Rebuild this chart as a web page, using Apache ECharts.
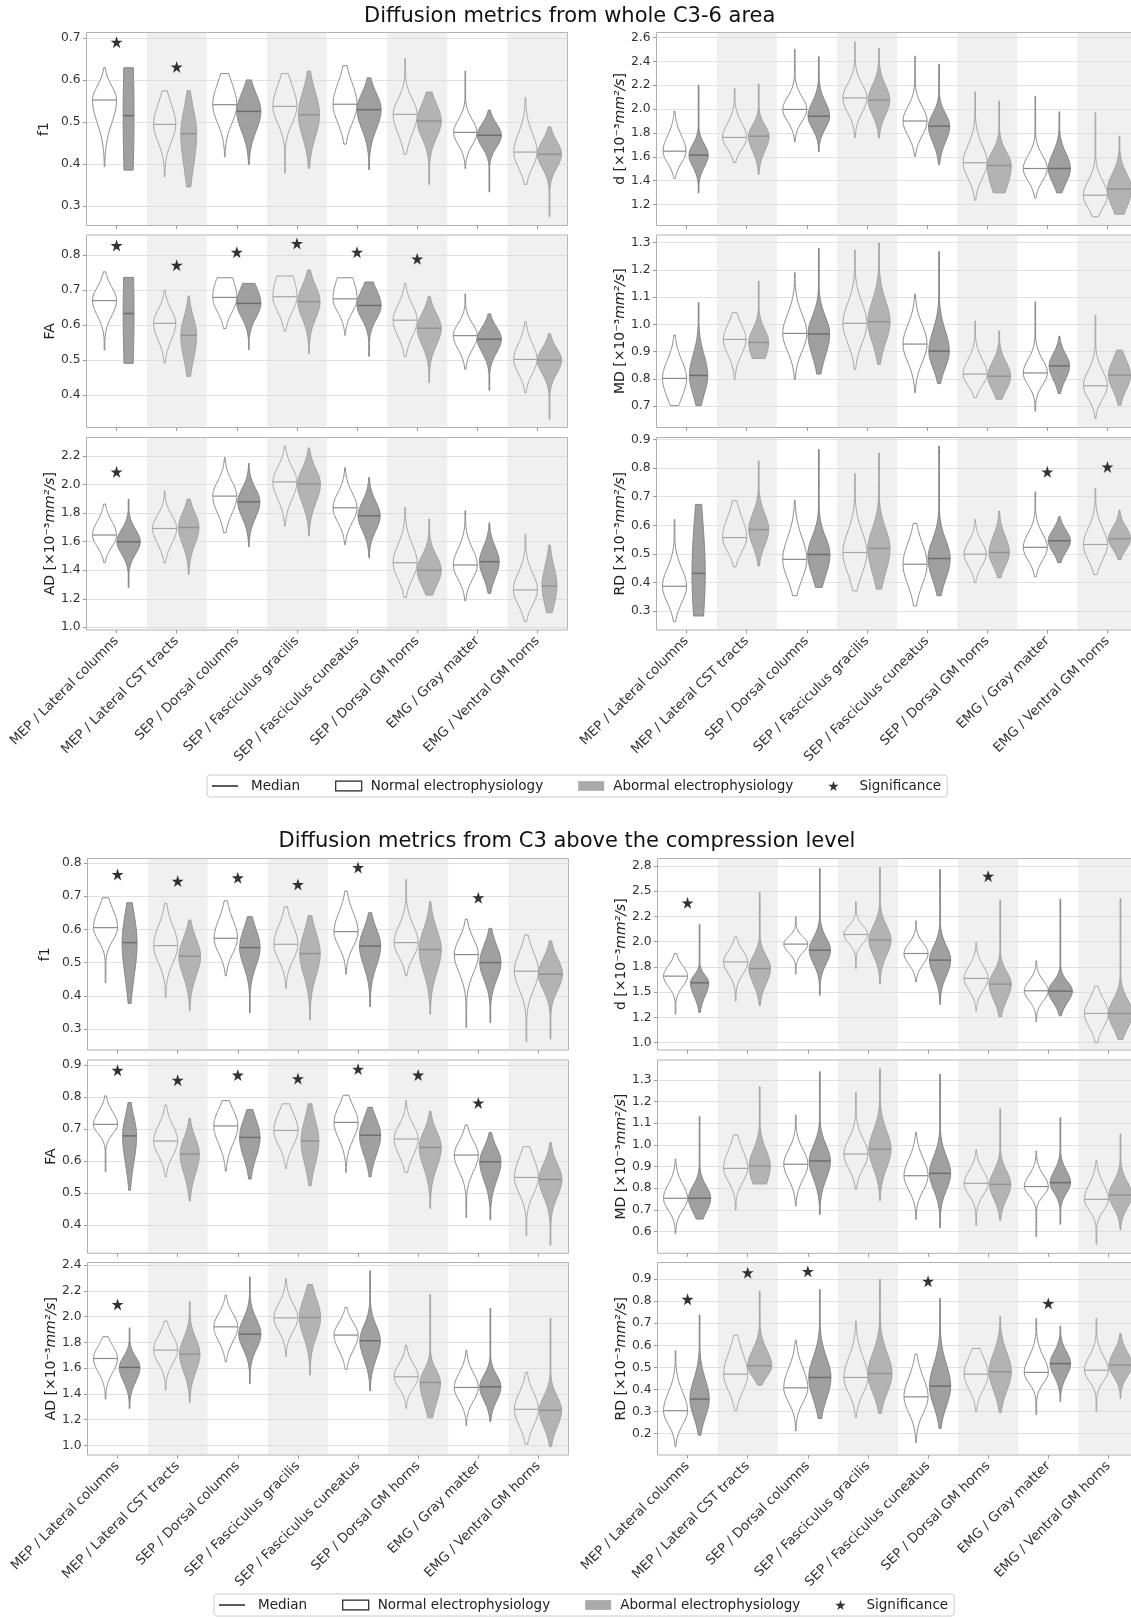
<!DOCTYPE html>
<html>
<head>
<meta charset="utf-8">
<title>Diffusion metrics violin plots</title>
<script src="https://cdn.jsdelivr.net/npm/echarts@6/dist/echarts.min.js"></script>
<style>
  html, body { margin: 0; padding: 0; background: #ffffff; }
  #chart { width: 1131px; height: 1618px; }
</style>
</head>
<body>
<div id="chart"></div>
<script>
// ---------------------------------------------------------------------------
// Categories (electrophysiology test / region of interest)
// ---------------------------------------------------------------------------
const categories = [
  'MEP / Lateral columns', 'MEP / Lateral CST tracts', 'SEP / Dorsal columns',
  'SEP / Fasciculus gracilis', 'SEP / Fasciculus cuneatus', 'SEP / Dorsal GM horns',
  'EMG / Gray matter', 'EMG / Ventral GM horns'
];
const shadedCategories = [1, 3, 5, 7];

// Each violin row: [min, lower half-width level, median, upper half-width level, max, relative width]
// ---- Whole C3-6 area ----
const wholeF1Normal = [
  [0.393, 0.488, 0.552, 0.591, 0.629, 1.0],
  [0.369, 0.445, 0.494, 0.550, 0.574, 0.92],
  [0.417, 0.490, 0.541, 0.600, 0.615, 1.0],
  [0.378, 0.490, 0.537, 0.595, 0.615, 1.0],
  [0.447, 0.490, 0.542, 0.600, 0.634, 1.0],
  [0.423, 0.465, 0.518, 0.560, 0.651, 1.0],
  [0.389, 0.440, 0.475, 0.510, 0.621, 0.97],
  [0.351, 0.385, 0.428, 0.480, 0.558, 0.97]
];
const wholeF1Abnormal = [
  [0.385, 0.250, 0.515, 0.780, 0.629, 0.45],
  [0.345, 0.380, 0.472, 0.540, 0.574, 0.66],
  [0.398, 0.470, 0.525, 0.575, 0.600, 1.0],
  [0.389, 0.455, 0.517, 0.580, 0.621, 0.88],
  [0.386, 0.475, 0.529, 0.575, 0.605, 1.0],
  [0.351, 0.455, 0.502, 0.550, 0.571, 1.0],
  [0.333, 0.435, 0.468, 0.500, 0.528, 1.0],
  [0.274, 0.385, 0.423, 0.460, 0.488, 1.0]
];
const wholeF1Stars = [[0, 0.690], [1, 0.631]];

const wholeDNormal = [
  [1.418, 1.53, 1.647, 1.80, 1.983, 0.95],
  [1.552, 1.65, 1.762, 1.90, 2.172, 1.0],
  [1.725, 1.88, 1.997, 2.12, 2.502, 1.0],
  [1.762, 1.95, 2.094, 2.23, 2.564, 1.0],
  [1.605, 1.76, 1.900, 2.04, 2.444, 1.0],
  [1.236, 1.40, 1.550, 1.72, 2.145, 1.0],
  [1.256, 1.38, 1.502, 1.63, 2.108, 1.0],
  [1.097, 1.15, 1.278, 1.42, 1.969, 1.0]
];
const wholeDAbnormal = [
  [1.298, 1.50, 1.614, 1.72, 2.200, 0.8],
  [1.452, 1.63, 1.773, 1.88, 2.210, 0.86],
  [1.642, 1.82, 1.940, 2.08, 2.438, 0.9],
  [1.759, 1.93, 2.075, 2.22, 2.508, 0.9],
  [1.535, 1.70, 1.857, 1.98, 2.376, 0.88],
  [1.298, 1.30, 1.527, 1.66, 2.066, 1.0],
  [1.298, 1.36, 1.502, 1.65, 1.977, 0.92],
  [1.119, 1.15, 1.329, 1.48, 1.773, 1.0]
];
const wholeDStars = [];

const wholeFANormal = [
  [0.529, 0.620, 0.670, 0.715, 0.752, 1.0],
  [0.492, 0.550, 0.605, 0.650, 0.700, 0.92],
  [0.590, 0.630, 0.679, 0.750, 0.735, 1.0],
  [0.583, 0.630, 0.681, 0.760, 0.740, 1.0],
  [0.571, 0.630, 0.675, 0.750, 0.735, 1.0],
  [0.510, 0.560, 0.614, 0.665, 0.719, 1.0],
  [0.474, 0.525, 0.570, 0.610, 0.689, 1.0],
  [0.407, 0.455, 0.502, 0.555, 0.610, 0.97]
];
const wholeFAAbnormal = [
  [0.491, 0.350, 0.633, 0.920, 0.736, 0.45],
  [0.454, 0.490, 0.571, 0.630, 0.683, 0.66],
  [0.530, 0.615, 0.662, 0.720, 0.719, 1.0],
  [0.519, 0.610, 0.667, 0.720, 0.757, 0.92],
  [0.511, 0.610, 0.656, 0.710, 0.723, 1.0],
  [0.436, 0.535, 0.591, 0.640, 0.681, 1.0],
  [0.414, 0.515, 0.560, 0.600, 0.632, 1.0],
  [0.332, 0.455, 0.500, 0.540, 0.576, 1.0]
];
const wholeFAStars = [[0, 0.827], [1, 0.771], [2, 0.808], [3, 0.833], [4, 0.808], [5, 0.789]];

const wholeMDNormal = [
  [0.702, 0.72, 0.802, 0.88, 0.961, 1.0],
  [0.798, 0.88, 0.945, 1.01, 1.043, 0.94],
  [0.798, 0.89, 0.967, 1.05, 1.190, 1.0],
  [0.835, 0.92, 1.004, 1.09, 1.273, 1.0],
  [0.750, 0.85, 0.928, 1.01, 1.111, 1.0],
  [0.732, 0.77, 0.818, 0.88, 1.012, 1.0],
  [0.682, 0.77, 0.822, 0.88, 1.083, 1.0],
  [0.655, 0.72, 0.775, 0.84, 1.034, 1.0]
];
const wholeMDAbnormal = [
  [0.702, 0.73, 0.813, 0.90, 1.080, 0.76],
  [0.875, 0.86, 0.934, 0.99, 1.159, 0.83],
  [0.818, 0.87, 0.965, 1.04, 1.279, 0.9],
  [0.854, 0.92, 1.010, 1.10, 1.298, 0.92],
  [0.783, 0.83, 0.902, 0.99, 1.267, 0.85],
  [0.726, 0.75, 0.810, 0.87, 0.976, 0.95],
  [0.747, 0.79, 0.848, 0.90, 0.957, 0.85],
  [0.704, 0.75, 0.814, 0.88, 0.906, 0.92]
];
const wholeMDStars = [];

const wholeADNormal = [
  [1.453, 1.55, 1.647, 1.76, 1.864, 1.0],
  [1.453, 1.57, 1.693, 1.80, 1.957, 1.0],
  [1.663, 1.78, 1.920, 2.04, 2.191, 1.0],
  [1.710, 1.88, 2.020, 2.14, 2.270, 1.0],
  [1.581, 1.72, 1.838, 1.96, 2.120, 1.0],
  [1.210, 1.32, 1.453, 1.60, 1.840, 1.0],
  [1.187, 1.32, 1.437, 1.57, 1.817, 1.0],
  [1.040, 1.14, 1.262, 1.40, 1.654, 1.0]
];
const wholeADAbnormal = [
  [1.280, 1.50, 1.600, 1.70, 1.899, 0.97],
  [1.371, 1.56, 1.700, 1.82, 1.899, 0.85],
  [1.565, 1.75, 1.880, 1.99, 2.149, 0.92],
  [1.642, 1.85, 2.004, 2.13, 2.258, 0.95],
  [1.488, 1.66, 1.782, 1.90, 2.050, 0.92],
  [1.226, 1.27, 1.400, 1.52, 1.759, 1.0],
  [1.238, 1.33, 1.460, 1.58, 1.733, 0.82],
  [1.103, 1.13, 1.290, 1.45, 1.577, 0.62]
];
const wholeADStars = [[0, 2.09]];

const wholeRDNormal = [
  [0.263, 0.32, 0.387, 0.46, 0.620, 1.0],
  [0.455, 0.50, 0.557, 0.64, 0.686, 1.0],
  [0.354, 0.40, 0.481, 0.57, 0.688, 1.0],
  [0.371, 0.42, 0.505, 0.59, 0.781, 1.0],
  [0.318, 0.38, 0.464, 0.55, 0.606, 1.0],
  [0.400, 0.45, 0.499, 0.55, 0.620, 0.92],
  [0.420, 0.47, 0.523, 0.58, 0.717, 1.0],
  [0.428, 0.47, 0.533, 0.60, 0.729, 1.0]
];
const wholeRDAbnormal = [
  [0.283, 0.20, 0.432, 0.66, 0.673, 0.55],
  [0.458, 0.52, 0.585, 0.65, 0.825, 0.83],
  [0.383, 0.41, 0.498, 0.57, 0.865, 0.92],
  [0.377, 0.42, 0.519, 0.60, 0.853, 0.92],
  [0.354, 0.40, 0.484, 0.56, 0.877, 0.92],
  [0.417, 0.45, 0.505, 0.57, 0.650, 0.85],
  [0.470, 0.50, 0.546, 0.59, 0.630, 0.92],
  [0.481, 0.51, 0.553, 0.60, 0.653, 0.92]
];
const wholeRDStars = [[6, 0.787], [7, 0.804]];

// ---- C3, above the compression level ----
const c3F1Normal = [
  [0.439, 0.56, 0.605, 0.67, 0.695, 1.0],
  [0.395, 0.49, 0.551, 0.62, 0.678, 1.0],
  [0.460, 0.52, 0.573, 0.64, 0.686, 0.97],
  [0.422, 0.50, 0.555, 0.62, 0.668, 1.0],
  [0.465, 0.54, 0.593, 0.66, 0.715, 1.0],
  [0.460, 0.51, 0.560, 0.62, 0.750, 1.0],
  [0.305, 0.46, 0.524, 0.58, 0.631, 1.0],
  [0.262, 0.41, 0.474, 0.54, 0.583, 1.0]
];
const c3F1Abnormal = [
  [0.377, 0.44, 0.560, 0.66, 0.680, 0.62],
  [0.355, 0.45, 0.519, 0.58, 0.628, 0.9],
  [0.349, 0.48, 0.545, 0.61, 0.638, 0.85],
  [0.327, 0.45, 0.527, 0.60, 0.641, 0.85],
  [0.367, 0.48, 0.550, 0.61, 0.650, 0.88],
  [0.345, 0.46, 0.539, 0.61, 0.683, 0.92],
  [0.320, 0.44, 0.500, 0.56, 0.603, 0.88],
  [0.270, 0.41, 0.465, 0.52, 0.565, 1.0]
];
const c3F1Stars = [[0, 0.765], [1, 0.745], [2, 0.755], [3, 0.735], [4, 0.786], [6, 0.695]];

const c3DNormal = [
  [1.283, 1.54, 1.659, 1.78, 1.883, 1.0],
  [1.412, 1.66, 1.800, 1.93, 2.048, 1.0],
  [1.679, 1.88, 1.976, 2.06, 2.246, 1.0],
  [1.735, 1.97, 2.071, 2.17, 2.394, 1.0],
  [1.603, 1.76, 1.883, 2.00, 2.206, 1.0],
  [1.316, 1.50, 1.636, 1.78, 1.992, 1.0],
  [1.208, 1.40, 1.514, 1.63, 1.810, 1.0],
  [1.000, 1.13, 1.290, 1.45, 1.560, 1.0]
];
const c3DAbnormal = [
  [1.300, 1.44, 1.593, 1.68, 2.170, 0.76],
  [1.366, 1.56, 1.735, 1.88, 2.483, 0.9],
  [1.471, 1.76, 1.916, 2.06, 2.724, 0.88],
  [1.580, 1.84, 2.015, 2.18, 2.734, 0.92],
  [1.379, 1.64, 1.817, 1.98, 2.714, 0.88],
  [1.257, 1.40, 1.580, 1.72, 2.410, 0.92],
  [1.267, 1.38, 1.511, 1.62, 2.420, 1.0],
  [1.033, 1.12, 1.290, 1.45, 2.427, 1.0]
];
const c3DStars = [[0, 2.384], [5, 2.648]];

const c3FANormal = [
  [0.567, 0.680, 0.715, 0.76, 0.804, 1.0],
  [0.551, 0.610, 0.663, 0.72, 0.775, 1.0],
  [0.569, 0.645, 0.710, 0.77, 0.789, 1.0],
  [0.577, 0.640, 0.696, 0.76, 0.779, 1.0],
  [0.565, 0.660, 0.721, 0.78, 0.806, 1.0],
  [0.565, 0.610, 0.669, 0.72, 0.790, 1.0],
  [0.424, 0.560, 0.619, 0.67, 0.713, 1.0],
  [0.367, 0.490, 0.549, 0.62, 0.645, 1.0]
];
const c3FAAbnormal = [
  [0.509, 0.58, 0.679, 0.75, 0.783, 0.58],
  [0.476, 0.55, 0.622, 0.68, 0.733, 0.8],
  [0.544, 0.60, 0.674, 0.74, 0.761, 0.85],
  [0.523, 0.58, 0.663, 0.74, 0.779, 0.74],
  [0.551, 0.61, 0.681, 0.74, 0.768, 0.88],
  [0.452, 0.57, 0.643, 0.70, 0.756, 0.92],
  [0.416, 0.53, 0.598, 0.65, 0.690, 0.88],
  [0.338, 0.48, 0.543, 0.60, 0.658, 0.95]
];
const c3FAStars = [[0, 0.884], [1, 0.853], [2, 0.869], [3, 0.858], [4, 0.8875], [5, 0.869], [6, 0.782]];

const c3MDNormal = [
  [0.592, 0.69, 0.754, 0.83, 0.935, 1.0],
  [0.700, 0.82, 0.892, 0.99, 1.046, 1.0],
  [0.718, 0.83, 0.911, 0.99, 1.138, 1.0],
  [0.795, 0.88, 0.958, 1.04, 1.242, 1.0],
  [0.657, 0.78, 0.858, 0.95, 1.058, 1.0],
  [0.628, 0.76, 0.823, 0.89, 0.977, 1.0],
  [0.577, 0.76, 0.808, 0.87, 0.972, 1.0],
  [0.542, 0.69, 0.749, 0.83, 0.928, 1.0]
];
const c3MDAbnormal = [
  [0.658, 0.68, 0.754, 0.82, 1.131, 0.92],
  [0.820, 0.80, 0.903, 0.99, 1.269, 0.88],
  [0.680, 0.83, 0.926, 1.01, 1.338, 0.88],
  [0.743, 0.88, 0.980, 1.08, 1.351, 0.92],
  [0.618, 0.78, 0.869, 0.96, 1.326, 0.88],
  [0.651, 0.74, 0.818, 0.89, 1.166, 0.88],
  [0.634, 0.77, 0.826, 0.89, 1.126, 0.85],
  [0.608, 0.70, 0.769, 0.84, 1.049, 0.95]
];
const c3MDStars = [];

const c3ADNormal = [
  [1.360, 1.55, 1.675, 1.79, 1.844, 1.0],
  [1.430, 1.62, 1.740, 1.87, 1.965, 1.0],
  [1.650, 1.79, 1.921, 2.04, 2.167, 1.0],
  [1.688, 1.87, 1.991, 2.12, 2.296, 1.0],
  [1.590, 1.72, 1.857, 1.97, 2.071, 1.0],
  [1.287, 1.43, 1.533, 1.65, 1.779, 1.0],
  [1.153, 1.33, 1.450, 1.58, 1.740, 1.0],
  [1.010, 1.13, 1.280, 1.43, 1.567, 1.0]
];
const c3ADAbnormal = [
  [1.287, 1.48, 1.606, 1.70, 1.913, 0.86],
  [1.334, 1.55, 1.709, 1.85, 2.115, 0.85],
  [1.481, 1.73, 1.864, 2.00, 2.309, 0.92],
  [1.546, 1.82, 1.994, 2.17, 2.250, 0.88],
  [1.424, 1.65, 1.813, 1.95, 2.356, 0.85],
  [1.215, 1.30, 1.489, 1.60, 2.172, 0.85],
  [1.184, 1.33, 1.455, 1.56, 2.064, 0.88],
  [0.990, 1.12, 1.272, 1.40, 1.986, 0.92]
];
const c3ADStars = [[0, 2.095]];

const c3RDNormal = [
  [0.139, 0.23, 0.303, 0.40, 0.575, 1.0],
  [0.303, 0.38, 0.469, 0.58, 0.646, 1.0],
  [0.211, 0.33, 0.407, 0.51, 0.623, 1.0],
  [0.271, 0.37, 0.454, 0.56, 0.710, 1.0],
  [0.158, 0.28, 0.366, 0.47, 0.560, 1.0],
  [0.301, 0.39, 0.469, 0.56, 0.586, 1.0],
  [0.286, 0.42, 0.477, 0.56, 0.722, 1.0],
  [0.301, 0.43, 0.487, 0.56, 0.722, 1.0]
];
const c3RDAbnormal = [
  [0.192, 0.26, 0.356, 0.46, 0.737, 0.8],
  [0.419, 0.45, 0.507, 0.59, 0.846, 1.0],
  [0.268, 0.34, 0.454, 0.56, 0.853, 0.92],
  [0.291, 0.37, 0.472, 0.58, 0.900, 1.0],
  [0.223, 0.31, 0.415, 0.53, 0.812, 0.88],
  [0.295, 0.38, 0.480, 0.58, 0.732, 0.92],
  [0.344, 0.45, 0.517, 0.58, 0.687, 0.85],
  [0.359, 0.45, 0.510, 0.58, 0.654, 0.95]
];
const c3RDStars = [[0, 0.809], [1, 0.93], [2, 0.936], [4, 0.891], [6, 0.79]];

// ---------------------------------------------------------------------------
// Tick values and tick labels for every y axis
// ---------------------------------------------------------------------------
const wholeF1Ticks = [0.3, 0.4, 0.5, 0.6, 0.7];
const wholeF1Labels = ['0.3', '0.4', '0.5', '0.6', '0.7'];
const wholeDTicks = [1.2, 1.4, 1.6, 1.8, 2.0, 2.2, 2.4, 2.6];
const wholeDLabels = ['1.2', '1.4', '1.6', '1.8', '2.0', '2.2', '2.4', '2.6'];
const wholeFATicks = [0.4, 0.5, 0.6, 0.7, 0.8];
const wholeFALabels = ['0.4', '0.5', '0.6', '0.7', '0.8'];
const wholeMDTicks = [0.7, 0.8, 0.9, 1.0, 1.1, 1.2, 1.3];
const wholeMDLabels = ['0.7', '0.8', '0.9', '1.0', '1.1', '1.2', '1.3'];
const wholeADTicks = [1.0, 1.2, 1.4, 1.6, 1.8, 2.0, 2.2];
const wholeADLabels = ['1.0', '1.2', '1.4', '1.6', '1.8', '2.0', '2.2'];
const wholeRDTicks = [0.3, 0.4, 0.5, 0.6, 0.7, 0.8, 0.9];
const wholeRDLabels = ['0.3', '0.4', '0.5', '0.6', '0.7', '0.8', '0.9'];

const c3F1Ticks = [0.3, 0.4, 0.5, 0.6, 0.7, 0.8];
const c3F1Labels = ['0.3', '0.4', '0.5', '0.6', '0.7', '0.8'];
const c3DTicks = [1.0, 1.25, 1.5, 1.75, 2.0, 2.25, 2.5, 2.75];
const c3DLabels = ['1.0', '1.2', '1.5', '1.8', '2.0', '2.2', '2.5', '2.8'];
const c3FATicks = [0.4, 0.5, 0.6, 0.7, 0.8, 0.9];
const c3FALabels = ['0.4', '0.5', '0.6', '0.7', '0.8', '0.9'];
const c3MDTicks = [0.6, 0.7, 0.8, 0.9, 1.0, 1.1, 1.2, 1.3];
const c3MDLabels = ['0.6', '0.7', '0.8', '0.9', '1.0', '1.1', '1.2', '1.3'];
const c3ADTicks = [1.0, 1.2, 1.4, 1.6, 1.8, 2.0, 2.2, 2.4];
const c3ADLabels = ['1.0', '1.2', '1.4', '1.6', '1.8', '2.0', '2.2', '2.4'];
const c3RDTicks = [0.2, 0.3, 0.4, 0.5, 0.6, 0.7, 0.8, 0.9];
const c3RDLabels = ['0.2', '0.3', '0.4', '0.5', '0.6', '0.7', '0.8', '0.9'];

// ---------------------------------------------------------------------------
// Panel layout and styling
// ---------------------------------------------------------------------------
const FONT = 'DejaVu Sans';
const unitName = (prefix) => '{r|' + prefix + ' [×10⁻³}{i|mm²/s}{r|]}';

const panels = [
  // whole C3-6 area
  { left: 86.5, top: 32.5, height: 193, min: 0.253, max: 0.713, ticks: wholeF1Ticks, labels: wholeF1Labels, name: '{r|f1}', gap: 35, normal: wholeF1Normal, abnormal: wholeF1Abnormal, stars: wholeF1Stars, xLabels: false },
  { left: 656.5, top: 32.5, height: 193, min: 1.024, max: 2.642, ticks: wholeDTicks, labels: wholeDLabels, name: unitName('d'), gap: 27, normal: wholeDNormal, abnormal: wholeDAbnormal, stars: wholeDStars, xLabels: false },
  { left: 86.5, top: 235, height: 192.5, min: 0.308, max: 0.857, ticks: wholeFATicks, labels: wholeFALabels, name: '{r|FA}', gap: 26, normal: wholeFANormal, abnormal: wholeFAAbnormal, stars: wholeFAStars, xLabels: false },
  { left: 656.5, top: 235, height: 192.5, min: 0.622, max: 1.328, ticks: wholeMDTicks, labels: wholeMDLabels, name: unitName('MD'), gap: 26, normal: wholeMDNormal, abnormal: wholeMDAbnormal, stars: wholeMDStars, xLabels: false },
  { left: 86.5, top: 437.5, height: 192.5, min: 0.981, max: 2.331, ticks: wholeADTicks, labels: wholeADLabels, name: unitName('AD'), gap: 26, normal: wholeADNormal, abnormal: wholeADAbnormal, stars: wholeADStars, xLabels: true },
  { left: 656.5, top: 437.5, height: 192.5, min: 0.234, max: 0.907, ticks: wholeRDTicks, labels: wholeRDLabels, name: unitName('RD'), gap: 26, normal: wholeRDNormal, abnormal: wholeRDAbnormal, stars: wholeRDStars, xLabels: true },
  // C3 above the compression level
  { left: 87.5, top: 858.5, height: 191.5, min: 0.237, max: 0.813, ticks: c3F1Ticks, labels: c3F1Labels, name: '{r|f1}', gap: 35, normal: c3F1Normal, abnormal: c3F1Abnormal, stars: c3F1Stars, xLabels: false },
  { left: 657.5, top: 858.5, height: 191.5, min: 0.928, max: 2.823, ticks: c3DTicks, labels: c3DLabels, name: unitName('d'), gap: 27, normal: c3DNormal, abnormal: c3DAbnormal, stars: c3DStars, xLabels: false },
  { left: 87.5, top: 1060, height: 193.3, min: 0.312, max: 0.916, ticks: c3FATicks, labels: c3FALabels, name: '{r|FA}', gap: 26, normal: c3FANormal, abnormal: c3FAAbnormal, stars: c3FAStars, xLabels: false },
  { left: 657.5, top: 1060, height: 193.3, min: 0.500, max: 1.392, ticks: c3MDTicks, labels: c3MDLabels, name: unitName('MD'), gap: 26, normal: c3MDNormal, abnormal: c3MDAbnormal, stars: c3MDStars, xLabels: false },
  { left: 87.5, top: 1262.5, height: 192.5, min: 0.925, max: 2.421, ticks: c3ADTicks, labels: c3ADLabels, name: unitName('AD'), gap: 26, normal: c3ADNormal, abnormal: c3ADAbnormal, stars: c3ADStars, xLabels: true },
  { left: 657.5, top: 1262.5, height: 192.5, min: 0.102, max: 0.976, ticks: c3RDTicks, labels: c3RDLabels, name: unitName('RD'), gap: 26, normal: c3RDNormal, abnormal: c3RDAbnormal, stars: c3RDStars, xLabels: true }
];
const PANEL_WIDTH = 481;

const STAR = 'path://M50,2 L61.8,38.2 L99,38.2 L69,60.5 L80.3,97 L50,74.5 L19.7,97 L31,60.5 L1,38.2 L38.2,38.2 Z';
const NORMAL_FILL = '#ffffff';
const NORMAL_EDGE = '#8a8a8a';
const ABNORMAL_FILL = '#a0a0a0';
const ABNORMAL_EDGE = '#848484';
const BAND_FILL = 'rgba(213,213,213,0.36)';

// Violin outline: half-width peaks at the median and falls to half at the two given levels
function violinRenderer(side, fill, stroke) {
  return function (params, api) {
    const cat = api.value(0);
    const lo = api.value(1), hLo = api.value(2), med = api.value(3), hHi = api.value(4), hi = api.value(5), w = api.value(6);
    const band = api.size([1, 0])[0];
    const cx = api.coord([cat, med])[0] + side * band * 0.2;
    const half = band * 0.2 * w;
    const sLo = (med - hLo) / 1.1774, sHi = (hHi - med) / 1.1774;
    const steps = 64;
    const rightSide = [], leftSide = [];
    for (let i = 0; i <= steps; i++) {
      const v = lo + (hi - lo) * i / steps;
      const d = v - med;
      const s = d < 0 ? sLo : sHi;
      const hw = Math.max(half * Math.exp(-0.5 * (d / s) * (d / s)), 0.35);
      const y = api.coord([cat, v])[1];
      rightSide.push([cx + hw, y]);
      leftSide.unshift([cx - hw, y]);
    }
    return {
      type: 'polygon',
      shape: { points: rightSide.concat(leftSide) },
      style: { fill: fill, stroke: stroke, lineWidth: 1 }
    };
  };
}

function medianRenderer(params, api) {
  const cat = api.value(0), side = api.value(1), med = api.value(2), w = api.value(3);
  const band = api.size([1, 0])[0];
  const p = api.coord([cat, med]);
  const cx = p[0] + side * band * 0.2;
  const half = band * 0.2 * w;
  return {
    type: 'line',
    shape: { x1: cx - half, y1: p[1], x2: cx + half, y2: p[1] },
    style: { stroke: side < 0 ? '#8a8a8a' : '#6e6e6e', lineWidth: side < 0 ? 1.2 : 1.5 }
  };
}

function bandRenderer(params, api) {
  const cat = api.value(0);
  const band = api.size([1, 0])[0];
  const cs = params.coordSys;
  const x = api.coord([cat, api.value(1)])[0] - band / 2;
  return {
    type: 'rect',
    shape: { x: x, y: cs.y, width: band, height: cs.height },
    style: { fill: BAND_FILL }
  };
}

const grids = [], xAxes = [], yAxes = [], series = [];

panels.forEach((p, i) => {
  grids.push({
    left: p.left, top: p.top, width: PANEL_WIDTH, height: p.height,
    show: true, borderColor: '#b0b0b0', borderWidth: 1, backgroundColor: '#ffffff',
    containLabel: false, outerBoundsMode: 'none'
  });
  xAxes.push({
    type: 'category', gridIndex: i, data: categories, boundaryGap: true,
    axisLine: { show: false },
    axisTick: { show: true, alignWithLabel: true, length: 3.5, lineStyle: { color: '#9a9a9a' } },
    axisLabel: {
      show: p.xLabels, rotate: 45, interval: 0, margin: 9, hideOverlap: false,
      fontFamily: FONT, fontSize: 13.3, color: '#333333'
    },
    splitLine: { show: false }
  });
  const ticks = p.ticks, labels = p.labels;
  yAxes.push({
    type: 'value', gridIndex: i, min: p.min, max: p.max,
    name: p.name, nameLocation: 'middle', nameGap: p.gap, nameRotate: 90,
    nameTextStyle: {
      rich: {
        r: { fontFamily: FONT, fontSize: 14, color: '#222222' },
        i: { fontFamily: FONT, fontSize: 14, color: '#222222', fontStyle: 'italic' }
      }
    },
    axisLine: { show: false },
    axisTick: { show: true, length: 3.5, customValues: ticks, lineStyle: { color: '#9a9a9a' } },
    axisLabel: {
      customValues: ticks, margin: 6, fontFamily: FONT, fontSize: 12.3, color: '#333333',
      formatter: (v) => {
        const k = ticks.findIndex(t => Math.abs(t - v) < 1e-6);
        return k >= 0 ? labels[k] : '';
      }
    },
    splitLine: { show: true, lineStyle: { color: '#e1e1e1', width: 1 } }
  });

  series.push({
    type: 'custom', name: 'Normal electrophysiology', xAxisIndex: i, yAxisIndex: i, z: 2,
    renderItem: violinRenderer(-1, NORMAL_FILL, NORMAL_EDGE),
    encode: { x: 0, y: 3 },
    data: p.normal.map((r, c) => [c].concat(r))
  });
  series.push({
    type: 'custom', name: 'Abormal electrophysiology', xAxisIndex: i, yAxisIndex: i, z: 2,
    renderItem: violinRenderer(1, ABNORMAL_FILL, ABNORMAL_EDGE),
    encode: { x: 0, y: 3 },
    data: p.abnormal.map((r, c) => [c].concat(r))
  });
  series.push({
    type: 'custom', name: 'Median', xAxisIndex: i, yAxisIndex: i, z: 3,
    renderItem: medianRenderer,
    encode: { x: 0, y: 2 },
    data: p.normal.map((r, c) => [c, -1, r[2], r[5]]).concat(p.abnormal.map((r, c) => [c, 1, r[2], r[5]]))
  });
  series.push({
    type: 'custom', name: 'bands', xAxisIndex: i, yAxisIndex: i, z: 4, silent: true,
    renderItem: bandRenderer,
    encode: { x: 0, y: 1 },
    data: shadedCategories.map(c => [c, p.min])
  });
  series.push({
    type: 'scatter', name: 'Significance', xAxisIndex: i, yAxisIndex: i, z: 5,
    symbol: STAR, symbolSize: 12, itemStyle: { color: '#000000' },
    data: p.stars
  });
});

const legendText = { fontFamily: FONT, fontSize: 13.5, color: '#222222', padding: [0, 0, 0, 4] };
const legendItems = [
  { name: 'Median', icon: 'path://M0,0H28V1.6H0Z', itemStyle: { color: '#222222' },
    textStyle: Object.assign({}, legendText, { padding: [0, 0, 0, 8] }) },
  { name: 'Normal electrophysiology', icon: 'path://M0,0H24V9H0Z', itemStyle: { color: '#ffffff', borderColor: '#222222', borderWidth: 1.2 } },
  { name: 'Abormal electrophysiology', icon: 'path://M0,0H24V9H0Z', itemStyle: { color: '#aaaaaa', borderWidth: 0 } },
  { name: 'Significance', icon: STAR, itemStyle: { color: '#000000' },
    textStyle: Object.assign({}, legendText, { padding: [0, 0, 0, 8] }) }
];
const legendBase = {
  orient: 'horizontal', selectedMode: false, data: legendItems,
  itemWidth: 26, itemHeight: 10, itemGap: 35,
  borderColor: '#cccccc', borderWidth: 1, borderRadius: 3, backgroundColor: '#ffffff',
  padding: [4, 6, 4, 5],
  textStyle: legendText
};

const option = {
  animation: false,
  backgroundColor: '#ffffff',
  textStyle: { fontFamily: FONT },
  grid: grids,
  xAxis: xAxes,
  yAxis: yAxes,
  series: series,
  legend: [
    Object.assign({}, legendBase, { left: 207, top: 775 }),
    Object.assign({}, legendBase, { left: 214, top: 1594 })
  ],
  graphic: [
    { type: 'text', x: 569.7, y: 17, style: { text: 'Diffusion metrics from whole C3-6 area', font: '21px "DejaVu Sans"', fill: '#111111', textAlign: 'center', textVerticalAlign: 'middle' } },
    { type: 'text', x: 567, y: 841.5, style: { text: 'Diffusion metrics from C3 above the compression level', font: '21px "DejaVu Sans"', fill: '#111111', textAlign: 'center', textVerticalAlign: 'middle' } }
  ]
};

const chart = echarts.init(document.getElementById('chart'), null, { renderer: 'canvas' });
chart.setOption(option);
</script>
</body>
</html>
